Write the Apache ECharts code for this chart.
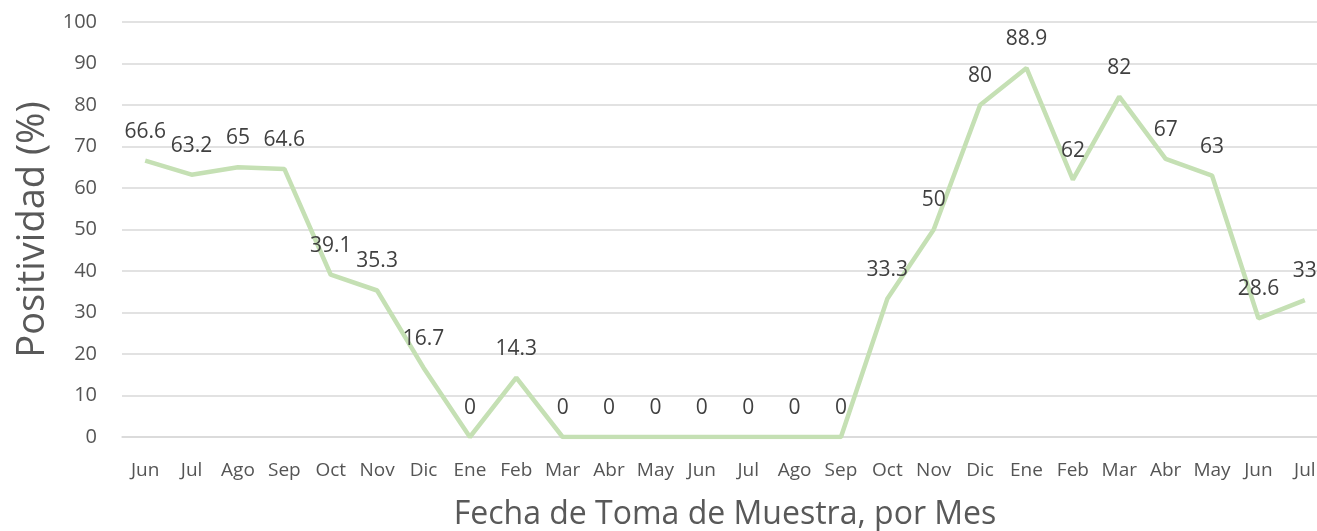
<!DOCTYPE html>
<html>
<head>
<meta charset="utf-8">
<script src="https://cdn.jsdelivr.net/npm/echarts@6/dist/echarts.min.js"></script>
<style>
html,body{margin:0;padding:0;background:#fff;}
#chart{width:1317px;height:531px;}
</style>
</head>
<body>
<div id="chart"></div>
<script>
const categories = ["Jun","Jul","Ago","Sep","Oct","Nov","Dic","Ene","Feb","Mar","Abr","May","Jun","Jul","Ago","Sep","Oct","Nov","Dic","Ene","Feb","Mar","Abr","May","Jun","Jul"];
const positividad = [66.6,63.2,65,64.6,39.1,35.3,16.7,0,14.3,0,0,0,0,0,0,0,33.3,50,80,88.9,62,82,67,63,28.6,33];
const yTitle = "Positividad (%)";
const xTitle = "Fecha de Toma de Muestra, por Mes";

const chart = echarts.init(document.getElementById('chart'), null, {renderer:'canvas'});
const font = "'Open Sans', 'Noto Sans', sans-serif";
chart.setOption({
  animation:false,
  backgroundColor:'#ffffff',
  grid:{left:122, top:22, right:-11, bottom:94, containLabel:false, outerBoundsMode:'none'},
  xAxis:{
    type:'category',
    data:categories,
    boundaryGap:true,
    axisLine:{show:true, lineStyle:{color:'#d9d9d9', width:1.5}},
    axisTick:{show:false},
    axisLabel:{color:'#555555', fontSize:19, fontFamily:font, margin:24, interval:0},
    name:xTitle,
    nameLocation:'middle',
    nameGap:62,
    nameTextStyle:{color:'#595959', fontSize:32, fontFamily:font}
  },
  yAxis:{
    type:'value',
    min:0, max:100, interval:10,
    axisLine:{show:false},
    axisTick:{show:false},
    splitLine:{lineStyle:{color:'#d9d9d9', width:1.5}},
    axisLabel:{color:'#555555', fontSize:20, fontFamily:font, margin:25},
    name:yTitle,
    nameLocation:'middle',
    nameGap:67,
    nameRotate:90,
    nameTextStyle:{color:'#595959', fontSize:38, fontFamily:font}
  },
  series:[{
    type:'line',
    data:positividad,
    symbol:'circle',
    symbolSize:1,
    showSymbol:true,
    itemStyle:{color:'rgba(0,0,0,0)'},
    lineStyle:{color:'#c5e0b4', width:4.5},
    label:{show:true, position:'top', distance:18, color:'#404040', fontSize:21, fontFamily:font}
  }]
});
</script>
</body>
</html>
